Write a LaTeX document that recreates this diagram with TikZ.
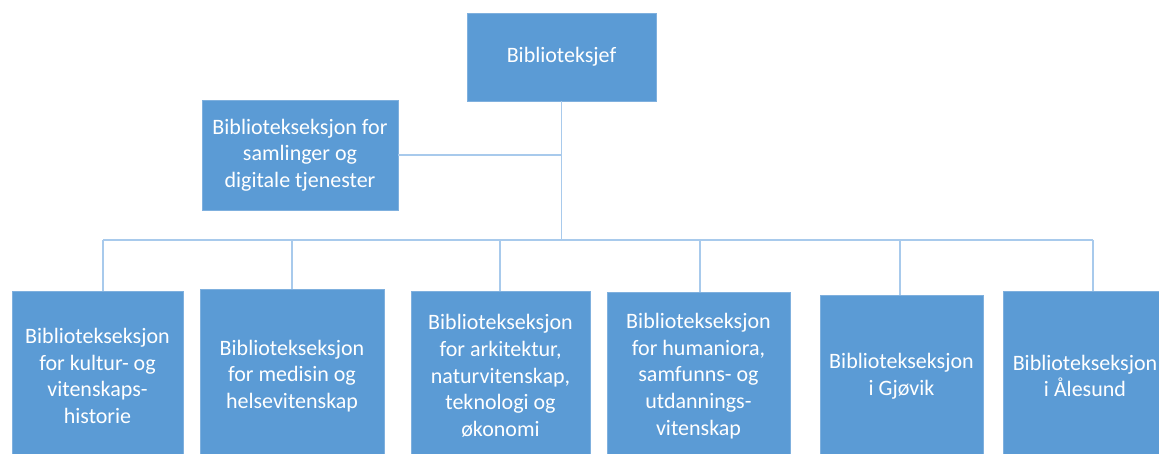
\documentclass[tikz,border=0pt]{standalone}
\usepackage{fontspec}
\setmainfont{Carlito}
\definecolor{boxblue}{HTML}{5B9BD5}
\definecolor{boxedge}{HTML}{7FB0DE}
\definecolor{linkblue}{HTML}{A8CAEC}
\begin{document}
\begin{tikzpicture}[x=1pt,y=-1pt,
  orgbox/.style={rectangle,fill=boxblue,draw=boxedge,line width=0.8pt,text=white,align=center,
    inner sep=0pt,font=\fontsize{22}{26.7}\selectfont},
  link/.style={draw=linkblue,line width=1.8pt}]
\useasboundingbox (0,0) rectangle (1159,454);
\clip (0,0) rectangle (1159,454);
% top
\node[orgbox,minimum width=189pt,minimum height=88pt] (chief) at (561.5,57) {Biblioteksjef};
\node[orgbox,minimum width=196pt,minimum height=110pt] (coll) at (300,155) {Bibliotekseksjon for\\samlinger og\\digitale tjenester};
% bottom row
\node[orgbox,minimum width=171pt,minimum height=170pt] (s1) at (97.5,376) {Bibliotekseksjon\\for kultur- og\\vitenskaps-\\historie};
\node[orgbox,minimum width=184pt,minimum height=174pt] (s2) at (292,376) {Bibliotekseksjon\\for medisin og\\helsevitenskap};
\node[orgbox,minimum width=179pt,minimum height=170pt] (s3) at (500.5,376) {Bibliotekseksjon\\for arkitektur,\\naturvitenskap,\\teknologi og\\økonomi};
\node[orgbox,minimum width=183pt,minimum height=168pt] (s4) at (698.5,376) {Bibliotekseksjon\\for humaniora,\\samfunns- og\\utdannings-\\vitenskap};
\node[orgbox,minimum width=163pt,minimum height=162pt] (s5) at (901.5,376) {Bibliotekseksjon\\i Gjøvik};
\node[orgbox,minimum width=164pt,minimum height=170pt] (s6) at (1085,376) {Bibliotekseksjon\\i Ålesund};
% connectors
\coordinate (hub) at (561.5,240);
\coordinate (b1) at (103,240);
\coordinate (b2) at (292,240);
\coordinate (b3) at (500,240);
\coordinate (b4) at (700,240);
\coordinate (b5) at (900,240);
\coordinate (b6) at (1093,240);
\path[link] (chief.south) -- (hub);
\path[link] (coll.east) -- (coll.east -| hub);
\path[link] (b1) -- (b6);
\foreach \i in {1,...,6} {\path[link] (b\i) -- (b\i |- s\i.north);}
\end{tikzpicture}
\end{document}
